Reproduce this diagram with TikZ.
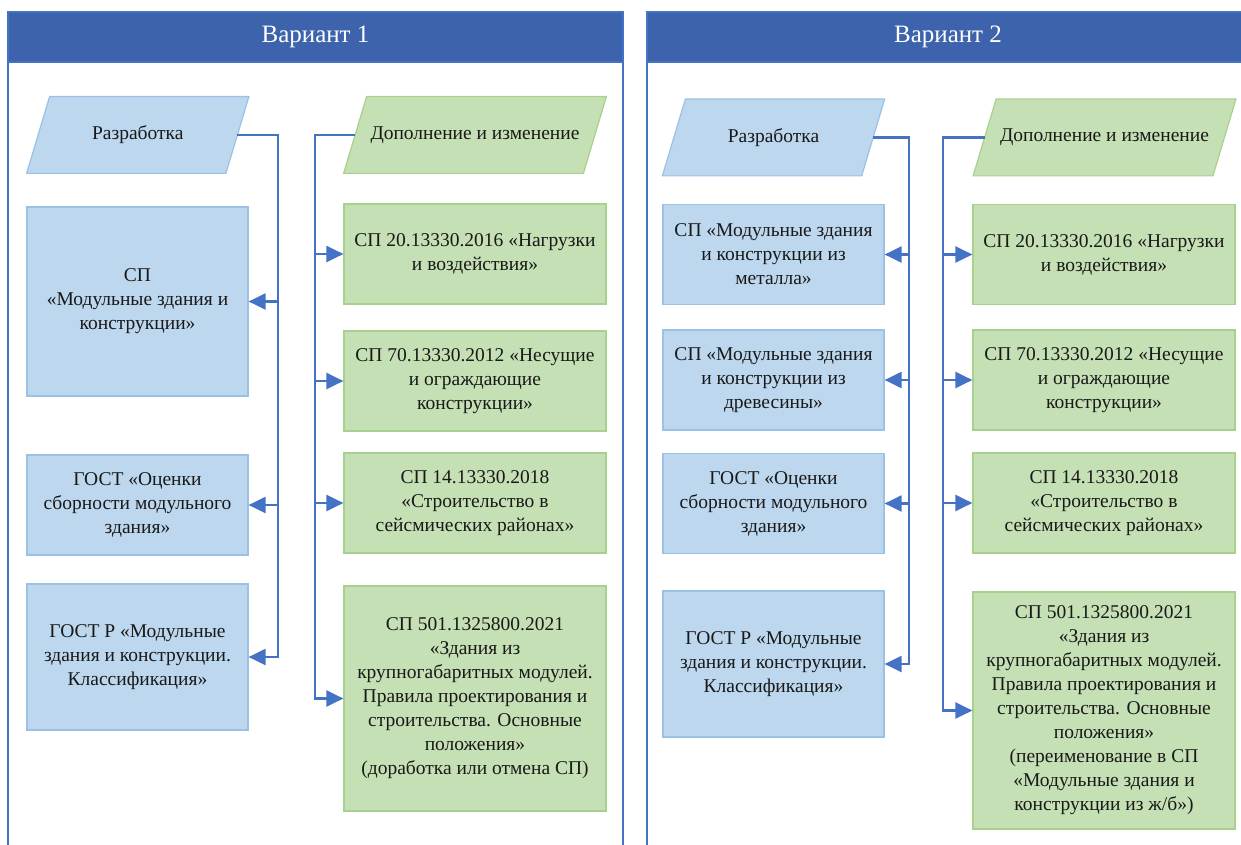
\documentclass[tikz,border=0pt]{standalone}
\usepackage{fontspec}
\setmainfont{Liberation Serif}
\usepackage{tikz}
\usetikzlibrary{arrows.meta,backgrounds}
\definecolor{hdrblue}{RGB}{61,99,172}
\definecolor{frameblue}{RGB}{68,114,196}
\definecolor{linkblue}{RGB}{68,114,196}
\definecolor{boxblue}{RGB}{189,215,238}
\definecolor{boxblueedge}{RGB}{155,194,230}
\definecolor{boxgreen}{RGB}{197,224,180}
\definecolor{boxgreenedge}{RGB}{169,209,142}
\tikzset{
  panel/.style ={draw=frameblue, line width=0.8pt},
  phead/.style ={rectangle, fill=hdrblue, draw=frameblue, line width=0.8pt,
                 text=white, font=\fontsize{12.5}{15}\selectfont},
  vbox/.style  ={rectangle, draw=boxblueedge, fill=boxblue, line width=0.6pt,
                 minimum width=110.5pt, inner sep=2pt, align=center,
                 text=black!90, font=\fontsize{9.75}{12}\selectfont},
  gbox/.style  ={vbox, draw=boxgreenedge, fill=boxgreen, minimum width=131pt},
  vpar/.style  ={rectangle, minimum width=99.25pt, minimum height=38pt, inner sep=2pt,
                 text=black!90, font=\fontsize{9.75}{12}\selectfont},
  gpar/.style  ={vpar, minimum width=119.5pt},
  vslant/.style={draw=boxblueedge, fill=boxblue, line width=0.6pt},
  gslant/.style={draw=boxgreenedge, fill=boxgreen, line width=0.6pt},
  link/.style  ={linkblue, line width=1.1pt},
  linkarr/.style={link, -{Triangle[length=8.5pt, width=8pt]}},
}

\begin{document}
\begin{tikzpicture}[x=0.5pt, y=-0.5pt]
\useasboundingbox (0,0) rectangle (1241,845);
\clip (0,0) rectangle (1241,845);
% panels
\draw[panel] (8,12) rectangle (623,870);
\draw[panel] (647,12) rectangle (1249,870);
\node[phead, minimum width=307.5pt, minimum height=25pt] (hdrA) at (315.5,37) {\raisebox{-1pt}{Вариант 1}};
\node[phead, minimum width=301pt,   minimum height=25pt] (hdrB) at (948,37)   {\raisebox{-1pt}{Вариант 2}};
% variant 1
\node[vpar] (razA) at (137.75,135) {Разработка};
\node[gpar] (dopA) at (475,135)    {Дополнение и изменение};
\node[vbox, minimum height=94.5pt] (spA)    at (137.5,301.5) {СП\\«Модульные здания и\\конструкции»};
\node[vbox, minimum height=50pt]   (gostA)  at (137.5,505)   {ГОСТ «Оценки\\сборности модульного\\здания»};
\node[vbox, minimum height=73pt]   (gostrA) at (137.5,657)   {ГОСТ Р «Модульные\\здания и конструкции.\\Классификация»};
\node[gbox, minimum height=50pt]   (sp20A)  at (475,254)     {СП 20.13330.2016 «Нагрузки\\и воздействия»};
\node[gbox, minimum height=50pt]   (sp70A)  at (475,381)     {СП 70.13330.2012 «Несущие\\и ограждающие\\конструкции»};
\node[gbox, minimum height=50pt]   (sp14A)  at (475,503)     {СП 14.13330.2018\\«Строительство в\\сейсмических районах»};
\node[gbox, minimum height=112.5pt] (sp501A) at (475,698.5)  {СП 501.1325800.2021\\«Здания из\\крупногабаритных модулей.\\Правила проектирования и\\строительства. Основные\\положения»\\(доработка или отмена СП)};
\coordinate (busA1) at (278,0);
\coordinate (busA2) at (315,0);
\draw[linkarr] (razA.east) -| (busA1 |- gostrA.east) -- (gostrA.east);
\foreach \n in {spA,gostA} \draw[linkarr] (busA1 |- \n.east) -- (\n.east);
\draw[linkarr] (dopA.west) -| (busA2 |- sp501A.west) -- (sp501A.west);
\foreach \n in {sp20A,sp70A,sp14A} \draw[linkarr] (busA2 |- \n.west) -- (\n.west);
% variant 2
\node[vpar] (razB) at (773.5,137.5)  {Разработка};
\node[gpar] (dopB) at (1104.5,137.5) {Дополнение и изменение};
\node[vbox, minimum height=50pt]  (metB)   at (773.5,254.5) {СП «Модульные здания\\и конструкции из\\металла»};
\node[vbox, minimum height=50pt]  (drevB)  at (773.5,380)   {СП «Модульные здания\\и конструкции из\\древесины»};
\node[vbox, minimum height=50pt]  (gostB)  at (773.5,503.5) {ГОСТ «Оценки\\сборности модульного\\здания»};
\node[vbox, minimum height=73pt]  (gostrB) at (773.5,664)   {ГОСТ Р «Модульные\\здания и конструкции.\\Классификация»};
\node[gbox, minimum height=50pt]  (sp20B)  at (1104,254.5)  {СП 20.13330.2016 «Нагрузки\\и воздействия»};
\node[gbox, minimum height=50pt]  (sp70B)  at (1104,380)    {СП 70.13330.2012 «Несущие\\и ограждающие\\конструкции»};
\node[gbox, minimum height=50pt]  (sp14B)  at (1104,503)    {СП 14.13330.2018\\«Строительство в\\сейсмических районах»};
\node[gbox, minimum height=118.5pt] (sp501B) at (1104,710.5) {СП 501.1325800.2021\\«Здания из\\крупногабаритных модулей.\\Правила проектирования и\\строительства. Основные\\положения»\\(переименование в СП\\«Модульные здания и\\конструкции из ж/б»)};
\coordinate (busB1) at (909,0);
\coordinate (busB2) at (943,0);
\draw[linkarr] (razB.east) -| (busB1 |- gostrB.east) -- (gostrB.east);
\foreach \n in {metB,drevB,gostB} \draw[linkarr] (busB1 |- \n.east) -- (\n.east);
\draw[linkarr] (dopB.west) -| (busB2 |- sp501B.west) -- (sp501B.west);
\foreach \n in {sp20B,sp70B,sp14B} \draw[linkarr] (busB2 |- \n.west) -- (\n.west);
% slanted blocks
\begin{scope}[on background layer]
\foreach \n/\s in {razA/vslant, dopA/gslant, razB/vslant, dopB/gslant}
  \draw[\s] ([xshift=-5.75pt]\n.south west) -- ([xshift=-5.75pt]\n.south east)
         -- ([xshift=5.75pt]\n.north east) -- ([xshift=5.75pt]\n.north west) -- cycle;
\end{scope}
\end{tikzpicture}
\end{document}
